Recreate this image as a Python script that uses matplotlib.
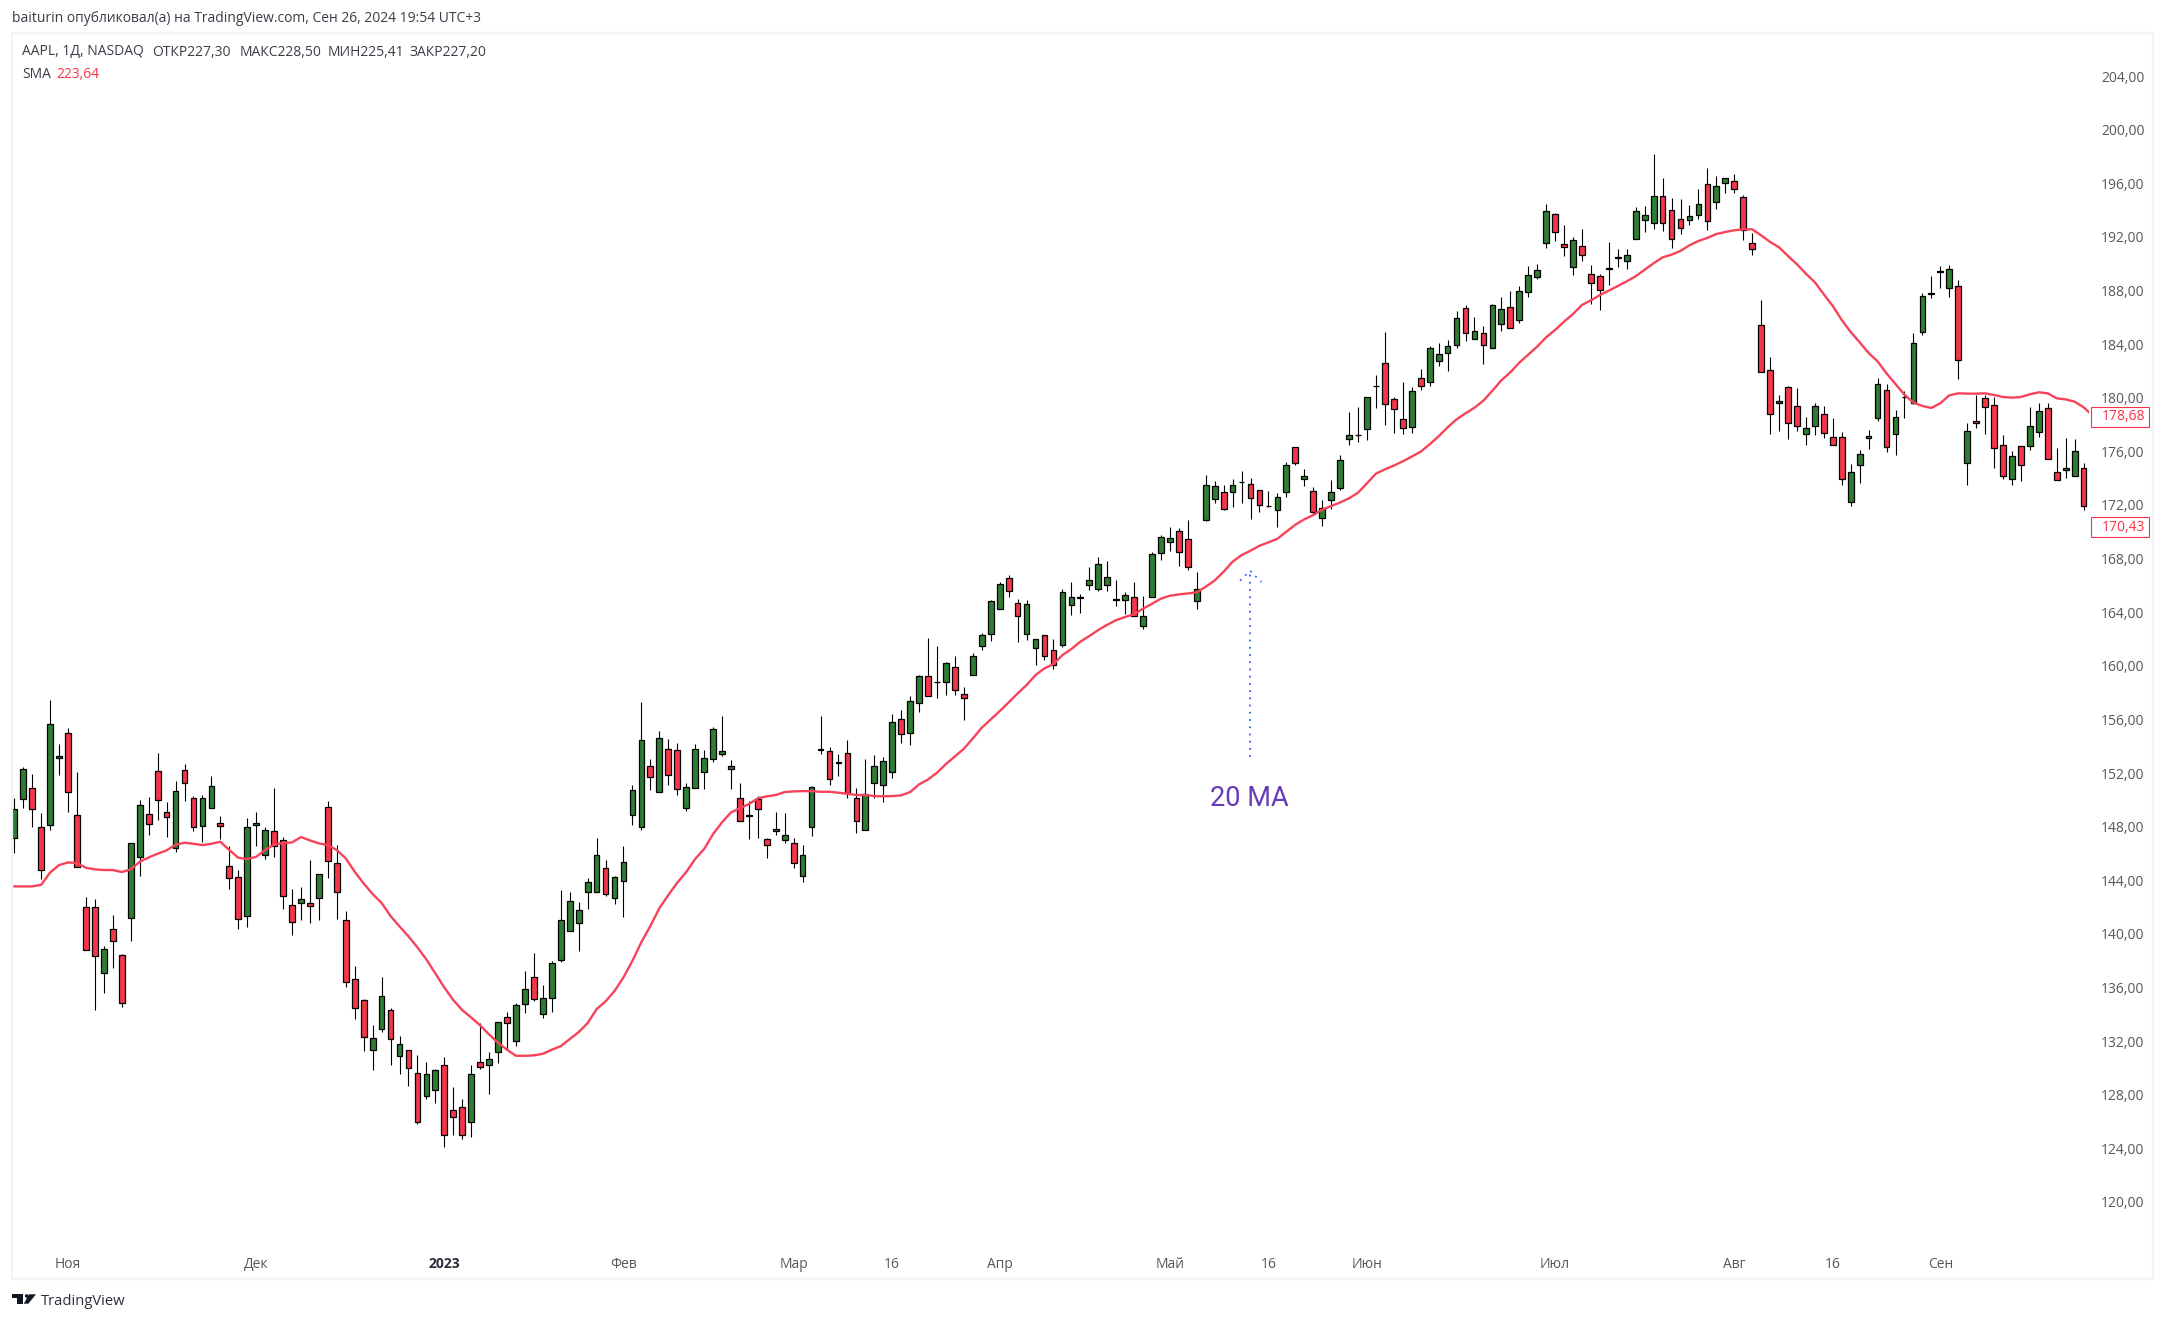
import matplotlib
matplotlib.use("Agg")
import matplotlib.pyplot as plt
import numpy as np
from matplotlib.patches import Rectangle, Polygon, Ellipse
from matplotlib.transforms import blended_transform_factory

W, H = 2165, 1321

# daily candles
opens = [
    147.12, 150.03, 150.85, 147.94, 148.09, 153.09, 154.96, 148.84, 141.97, 141.97,
    137.05, 140.33, 138.39, 141.15, 145.70, 148.91, 152.12, 149.06, 146.37, 152.20,
    150.11, 148.02, 149.36, 148.24, 145.03, 144.21, 141.30, 148.09, 145.85, 147.64,
    146.97, 142.12, 142.27, 142.27, 142.64, 149.43, 145.26, 141.00, 136.60, 135.03,
    131.30, 132.87, 134.29, 130.85, 131.30, 129.58, 127.87, 128.31, 130.18, 126.82,
    127.05, 125.93, 130.40, 130.18, 131.15, 133.76, 131.97, 134.73, 136.75, 133.99,
    135.18, 138.02, 140.18, 140.78, 143.09, 143.09, 144.88, 142.64, 143.91, 148.84,
    147.94, 152.49, 150.55, 153.76, 153.69, 149.36, 150.85, 152.05, 153.02, 153.39,
    152.27, 150.11, 148.82, 150.03, 147.05, 147.64, 146.97, 146.75, 144.29, 147.94,
    153.74, 153.61, 152.77, 153.46, 150.11, 147.72, 151.23, 151.08, 152.05, 156.00,
    154.96, 157.19, 159.21, 158.77, 158.76, 159.88, 157.87, 159.28, 161.45, 162.34,
    164.21, 166.52, 164.66, 162.34, 161.30, 162.27, 161.15, 161.52, 164.51, 165.03,
    166.00, 165.70, 166.00, 164.94, 164.88, 165.10, 162.94, 165.10, 168.39, 169.21,
    170.03, 169.43, 164.81, 170.85, 172.42, 172.94, 172.94, 173.69, 173.54, 173.09,
    171.90, 171.60, 172.94, 176.30, 173.91, 173.02, 171.00, 172.34, 173.24, 176.90,
    177.20, 177.65, 180.86, 182.57, 179.89, 178.39, 177.80, 181.45, 181.16, 182.72,
    183.32, 183.92, 186.68, 184.36, 184.81, 183.69, 185.48, 186.75, 185.78, 187.87,
    188.99, 191.53, 193.69, 191.45, 189.74, 191.30, 189.21, 189.07, 189.59, 190.46,
    190.19, 191.83, 193.24, 193.02, 195.04, 193.99, 193.32, 193.24, 193.62, 195.93,
    194.59, 196.01, 196.16, 194.96, 191.53, 185.41, 182.05, 179.59, 180.78, 179.36,
    177.27, 177.87, 178.76, 177.05, 177.05, 172.20, 174.96, 176.97, 178.47, 180.56,
    177.27, 180.03, 179.59, 184.88, 187.77, 189.42, 188.17, 188.32, 175.11, 178.24,
    179.96, 179.44, 176.45, 173.91, 176.38, 176.38, 177.42, 179.21, 174.44, 174.59,
    174.14, 174.73,
]
highs = [
    150.11, 152.42, 151.90, 148.99, 157.44, 154.16, 155.33, 152.05, 142.72, 142.57,
    139.06, 141.37, 138.46, 146.75, 149.96, 150.18, 153.46, 149.81, 151.38, 152.64,
    150.26, 150.33, 151.75, 148.76, 146.52, 144.73, 148.61, 149.06, 147.94, 150.85,
    147.20, 143.32, 143.46, 145.48, 144.43, 149.88, 146.60, 141.67, 137.57, 135.11,
    133.17, 136.75, 134.43, 132.35, 131.30, 130.93, 130.40, 129.88, 130.78, 128.54,
    127.64, 130.18, 133.32, 131.15, 133.39, 134.14, 134.81, 137.20, 138.54, 136.15,
    137.94, 143.24, 143.09, 142.35, 144.14, 147.12, 145.48, 144.29, 146.52, 151.08,
    157.27, 153.02, 155.11, 154.51, 154.21, 151.23, 154.14, 153.69, 155.41, 156.23,
    152.94, 151.23, 149.88, 150.26, 147.12, 149.06, 148.99, 147.12, 146.60, 151.00,
    156.23, 153.91, 153.39, 154.43, 150.85, 153.02, 153.32, 153.17, 156.38, 156.67,
    157.72, 159.28, 162.04, 161.45, 160.25, 160.70, 158.39, 160.93, 162.42, 164.88,
    166.22, 166.75, 164.96, 164.88, 161.97, 162.27, 161.97, 165.70, 166.22, 165.33,
    167.34, 168.09, 167.79, 166.37, 165.48, 166.22, 165.18, 168.46, 169.73, 170.33,
    170.25, 170.85, 166.97, 174.21, 173.76, 173.46, 173.91, 174.51, 173.99, 173.09,
    173.02, 172.87, 175.18, 176.35, 174.66, 173.31, 172.34, 173.84, 175.70, 178.92,
    179.29, 180.04, 181.68, 184.89, 180.04, 181.16, 180.78, 182.13, 183.84, 184.07,
    184.29, 186.45, 186.90, 186.01, 185.33, 186.98, 187.50, 187.95, 188.32, 189.81,
    189.96, 194.44, 193.77, 192.87, 191.98, 192.57, 189.89, 189.21, 191.60, 191.08,
    191.08, 194.22, 194.29, 198.17, 196.38, 194.89, 194.81, 194.36, 195.56, 197.13,
    196.53, 196.38, 196.68, 195.11, 192.27, 187.27, 183.02, 180.18, 180.85, 180.70,
    178.54, 179.59, 179.36, 178.47, 177.42, 175.03, 176.08, 177.57, 181.45, 181.00,
    179.06, 180.48, 184.81, 187.79, 189.06, 189.81, 189.88, 188.76, 178.09, 180.18,
    180.18, 180.03, 177.20, 176.00, 176.38, 179.29, 179.59, 179.59, 176.23, 176.97,
    176.90, 175.11,
]
lows = [
    146.00, 149.36, 147.99, 144.11, 147.77, 151.85, 149.11, 144.96, 138.76, 134.33,
    135.60, 137.47, 134.56, 139.48, 144.34, 147.39, 148.51, 147.25, 146.13, 149.93,
    147.69, 146.87, 149.36, 147.05, 143.36, 140.33, 140.53, 146.57, 145.60, 145.75,
    141.87, 139.93, 141.05, 140.83, 141.05, 144.19, 141.13, 136.00, 133.66, 131.28,
    129.86, 132.69, 130.23, 129.56, 128.66, 125.83, 127.69, 127.39, 124.11, 125.01,
    124.71, 124.86, 129.88, 128.07, 130.38, 131.37, 131.65, 134.11, 135.01, 133.74,
    134.19, 137.87, 140.18, 138.74, 141.87, 143.09, 142.84, 142.25, 141.28, 148.14,
    147.77, 150.75, 150.55, 151.13, 150.38, 149.19, 150.85, 150.83, 152.84, 153.29,
    150.83, 148.39, 147.10, 147.17, 145.68, 147.39, 146.80, 144.93, 143.89, 147.32,
    153.44, 151.13, 151.80, 150.16, 147.54, 147.72, 150.11, 149.86, 151.60, 154.26,
    154.11, 156.52, 157.72, 157.62, 157.84, 157.84, 155.98, 159.28, 161.20, 161.87,
    164.21, 165.10, 161.80, 161.95, 160.03, 160.45, 159.73, 161.37, 163.81, 163.96,
    165.63, 165.55, 165.55, 164.48, 163.89, 163.69, 162.77, 165.10, 167.87, 168.59,
    167.47, 167.12, 164.26, 170.78, 172.12, 171.60, 171.87, 172.17, 170.98, 171.45,
    171.82, 170.38, 172.57, 174.96, 173.44, 171.30, 170.45, 171.67, 173.09, 176.50,
    176.73, 176.88, 179.26, 178.00, 177.40, 177.32, 177.40, 180.61, 180.91, 182.40,
    182.03, 183.74, 184.26, 184.36, 182.55, 183.69, 185.01, 185.18, 185.61, 187.55,
    188.87, 191.21, 191.73, 190.61, 189.19, 190.23, 187.03, 186.58, 188.44, 189.79,
    189.64, 191.83, 192.40, 192.62, 192.47, 191.21, 192.25, 192.92, 193.32, 192.55,
    194.12, 195.26, 195.26, 191.80, 190.68, 181.90, 177.32, 177.55, 176.95, 177.55,
    176.50, 177.25, 177.02, 176.45, 173.47, 171.95, 173.66, 176.20, 178.29, 175.98,
    175.75, 178.52, 179.51, 184.71, 187.47, 188.22, 187.55, 181.43, 173.52, 177.72,
    177.32, 174.78, 173.96, 173.52, 173.81, 176.13, 177.10, 175.41, 173.84, 174.04,
    174.14, 171.65,
]
closes = [
    149.34, 152.27, 149.29, 144.73, 155.63, 153.24, 150.55, 144.96, 138.76, 138.32,
    138.84, 139.43, 134.81, 146.75, 149.58, 148.17, 149.96, 148.69, 150.63, 151.23,
    147.94, 150.11, 151.00, 148.02, 144.14, 141.08, 147.94, 148.24, 147.72, 146.52,
    142.79, 140.85, 142.57, 142.05, 144.43, 145.40, 143.09, 136.37, 134.43, 132.27,
    132.20, 135.33, 132.12, 131.75, 129.96, 125.93, 129.51, 129.81, 124.96, 126.30,
    124.96, 129.51, 130.03, 130.63, 133.39, 133.32, 134.66, 135.85, 135.11, 135.18,
    137.79, 141.00, 142.42, 141.75, 143.84, 145.85, 142.94, 144.21, 145.33, 150.70,
    154.43, 151.67, 154.58, 151.82, 150.78, 150.93, 153.76, 153.09, 155.26, 153.61,
    152.49, 148.39, 148.84, 149.29, 146.60, 147.79, 147.35, 145.26, 145.85, 150.93,
    153.76, 151.52, 152.79, 150.48, 148.39, 150.40, 152.49, 152.87, 155.78, 154.88,
    157.35, 159.21, 157.72, 158.81, 160.18, 158.16, 157.57, 160.70, 162.27, 164.81,
    166.07, 165.55, 163.69, 164.58, 161.97, 160.70, 160.03, 165.48, 165.10, 165.10,
    166.37, 167.57, 166.60, 164.96, 165.25, 163.69, 163.69, 168.31, 169.58, 169.51,
    168.46, 167.34, 165.70, 173.46, 173.39, 171.67, 173.46, 173.74, 172.49, 171.97,
    171.95, 172.57, 174.96, 175.10, 174.13, 171.45, 171.75, 172.94, 175.33, 177.20,
    177.25, 180.04, 180.91, 179.51, 179.14, 177.72, 180.48, 180.86, 183.69, 183.24,
    183.84, 185.93, 184.81, 184.96, 183.92, 186.90, 186.60, 185.18, 187.95, 189.14,
    189.51, 193.92, 192.35, 191.23, 191.75, 190.63, 188.54, 188.02, 189.66, 190.48,
    190.63, 193.92, 193.62, 195.04, 193.02, 191.83, 192.65, 193.54, 194.44, 193.17,
    195.78, 196.38, 195.56, 192.50, 191.08, 181.90, 178.76, 179.73, 178.09, 177.87,
    177.72, 179.36, 177.35, 176.45, 173.91, 174.44, 175.78, 177.12, 181.00, 176.30,
    178.54, 180.08, 184.06, 187.57, 187.79, 189.44, 189.59, 182.79, 177.50, 178.09,
    179.29, 176.23, 174.14, 175.63, 174.96, 177.87, 178.99, 175.41, 173.84, 174.73,
    176.00, 171.92,
]
sma = [
    143.54, 143.54, 143.54, 143.66, 144.58, 145.13, 145.33, 145.28, 144.93, 144.81,
    144.76, 144.76, 144.61, 144.81, 145.38, 145.70, 145.98, 146.23, 146.65, 146.80,
    146.72, 146.62, 146.72, 146.87, 146.25, 145.68, 145.58, 145.75, 146.25, 146.67,
    146.77, 146.82, 147.22, 146.97, 146.75, 146.62, 146.25, 145.63, 144.63, 143.76,
    142.97, 142.30, 141.33, 140.55, 139.81, 138.99, 138.09, 137.05, 136.00, 135.06,
    134.31, 133.76, 133.17, 132.49, 131.87, 131.35, 130.90, 130.90, 130.93, 131.05,
    131.35, 131.62, 132.15, 132.67, 133.34, 134.38, 134.96, 135.73, 136.75, 137.99,
    139.38, 140.58, 141.90, 142.89, 143.81, 144.61, 145.58, 146.33, 147.44, 148.32,
    149.06, 149.38, 149.68, 150.11, 150.26, 150.36, 150.58, 150.63, 150.65, 150.65,
    150.60, 150.60, 150.53, 150.45, 150.36, 150.36, 150.28, 150.26, 150.28, 150.33,
    150.58, 151.15, 151.52, 152.02, 152.67, 153.24, 153.81, 154.58, 155.38, 156.00,
    156.62, 157.27, 157.94, 158.56, 159.31, 159.81, 160.13, 160.80, 161.25, 161.80,
    162.22, 162.67, 163.06, 163.41, 163.64, 163.86, 164.26, 164.63, 165.01, 165.23,
    165.33, 165.40, 165.48, 165.90, 166.37, 167.02, 167.77, 168.26, 168.59, 168.96,
    169.21, 169.48, 170.01, 170.53, 170.93, 171.25, 171.65, 171.92, 172.19, 172.50,
    172.92, 173.62, 174.34, 174.66, 174.94, 175.26, 175.61, 175.98, 176.53, 177.13,
    177.80, 178.39, 178.84, 179.26, 179.79, 180.53, 181.30, 181.90, 182.62, 183.22,
    183.82, 184.51, 185.06, 185.68, 186.25, 186.93, 187.27, 187.67, 188.00, 188.34,
    188.69, 189.07, 189.56, 190.04, 190.48, 190.68, 190.96, 191.38, 191.70, 191.93,
    192.22, 192.37, 192.50, 192.57, 192.57, 192.12, 191.63, 191.23, 190.58, 189.96,
    189.26, 188.62, 187.72, 186.85, 185.80, 184.91, 184.14, 183.34, 182.72, 181.82,
    181.03, 180.23, 179.64, 179.39, 179.24, 179.59, 180.18, 180.33, 180.31, 180.31,
    180.33, 180.21, 180.06, 180.01, 180.06, 180.26, 180.41, 180.33, 179.96, 179.88,
    179.71, 179.29, 178.68,
]

price_ticks = list(range(120, 208, 4))
date_pos = [6, 27, 48, 68, 87, 98, 110, 129, 140, 151, 172, 192, 203, 215]
date_labels = ["Ноя", "Дек", "2023", "Фев", "Мар", "16", "Апр", "Май", "16",
               "Июн", "Июл", "Авг", "16", "Сен"]

# hand drawn arrow and its caption
arrow_x = [137.95, 137.95]
arrow_y = [153.2, 167.1]
arrow_head_x = [136.84, 137.95, 139.2]
arrow_head_y = [166.35, 167.1, 166.25]
last_sma = 178.68
last_close = 170.43

GREEN = "#2e7d32"
RED = "#f5364a"
LINE_RED = "#f7435a"
FRAME = "#f0f3fa"
TEXT = "#3a3d47"
AXIS_TEXT = "#55585f"
FONT = "Open Sans"
FS = 10
plt.rcParams["font.family"] = [FONT, "DejaVu Sans"]


def fx(px):
    return px / W


def fy(px):
    return 1 - px / H


def to_label(v):
    return f"{v:.2f}".replace(".", ",")


fig = plt.figure(figsize=(W / 100, H / 100), dpi=100, facecolor="white")

# pane: x 12..2089, y 33..1243 in pixels
ax = fig.add_axes([fx(12), fy(1243), fx(2089 - 12), (1243 - 33) / H])
ax.set_xlim(-0.26, 231.6)
ax.set_ylim(116.93, 207.22)
for s in ax.spines.values():
    s.set_visible(False)

x = np.arange(len(closes))
o = np.array(opens)
c = np.array(closes)
up = c >= o

ax.vlines(x, lows, highs, color="black", linewidth=0.8, zorder=2, snap=True)
ax.bar(x, np.abs(c - o), bottom=np.minimum(o, c), width=0.64,
       color=[GREEN if u else RED for u in up],
       edgecolor="black", linewidth=0.9, zorder=3)

ax.plot(np.arange(len(sma)), sma, color=LINE_RED, linewidth=1.7, zorder=4,
        solid_joinstyle="round")

# dotted arrow
ax.plot(arrow_x, arrow_y, color="#2962ff", linewidth=1.3, linestyle=(0, (1, 3)), zorder=5)
ax.plot(arrow_head_x, arrow_head_y, color="#2962ff", linewidth=1.3, linestyle=(0, (1, 3)), zorder=5)
fig.text(fx(1249), fy(798.5), "20 MA", color="#673ab7", fontsize=19.5, family="Roboto",
         ha="center", va="center")

# axis labels
ax.yaxis.tick_right()
ax.set_yticks(price_ticks)
ax.set_yticklabels([to_label(v) for v in price_ticks])
ax.tick_params(axis="y", length=0, pad=8.6, labelsize=FS, labelcolor=AXIS_TEXT)
ax.set_xticks(date_pos)
ax.set_xticklabels(date_labels)
ax.tick_params(axis="x", length=0, pad=9.8, labelsize=FS, labelcolor=AXIS_TEXT)
for lab in ax.get_xticklabels():
    if lab.get_text() == "2023":
        lab.set_fontweight("bold")
        lab.set_color("#2a2e39")

# last value boxes on the price scale
trans = blended_transform_factory(fig.transFigure, ax.transData)
for v in [last_sma, last_close]:
    fig.add_artist(Rectangle((fx(2091), v - 0.84), 58 / W, 1.49, transform=trans,
                             facecolor="white", edgecolor=RED, linewidth=0.8, zorder=6))
    fig.text(fx(2145), v - 0.09, to_label(v), transform=trans, color=RED, fontsize=FS,
             ha="right", va="center", zorder=7)

# outer frame
fig.add_artist(Rectangle((fx(12), fy(1279)), (2153 - 12) / W, (1279 - 33) / H,
                         facecolor="none", edgecolor=FRAME, linewidth=1.6, zorder=8))

# header and legend
fig.text(fx(12), fy(19), "baiturin опубликовал(а) на TradingView.com, Сен 26, 2024 19:54 UTC+3",
         color=TEXT, fontsize=FS, ha="left", va="center")
for px, txt in [(22, "AAPL, 1Д, NASDAQ"), (152, "ОТКР227,30"), (240, "МАКС228,50"),
                (328, "МИН225,41"), (410, "ЗАКР227,20")]:
    fig.text(fx(px), fy(52), txt, color=TEXT, fontsize=FS, ha="left", va="center")
fig.text(fx(22), fy(74), "SMA", color=TEXT, fontsize=FS, ha="left", va="center")
fig.text(fx(56.7), fy(74), "223,64", color=RED, fontsize=FS, ha="left", va="center")

# TradingView logo
logo_t = [(12.3, 1294.3), (23.3, 1294.3), (23.3, 1303.7), (16.7, 1303.7), (16.7, 1297.7), (12.3, 1297.7)]
logo_v = [(29, 1294.3), (36, 1294.3), (28.3, 1303.7), (23.8, 1303.7)]
for shape in (logo_t, logo_v):
    fig.add_artist(Polygon([(fx(a), fy(b)) for a, b in shape], closed=True,
                           transform=fig.transFigure, facecolor="#131722", edgecolor="none"))
fig.add_artist(Ellipse((fx(26.7), fy(1296)), 3.6 / W, 3.6 / H, transform=fig.transFigure,
                       facecolor="#131722", edgecolor="none"))
fig.text(fx(41), fy(1301.5), "TradingView", color="#2a2e39", fontsize=10.6, ha="left", va="center")

fig.savefig("out.png", dpi=100, facecolor="white")
